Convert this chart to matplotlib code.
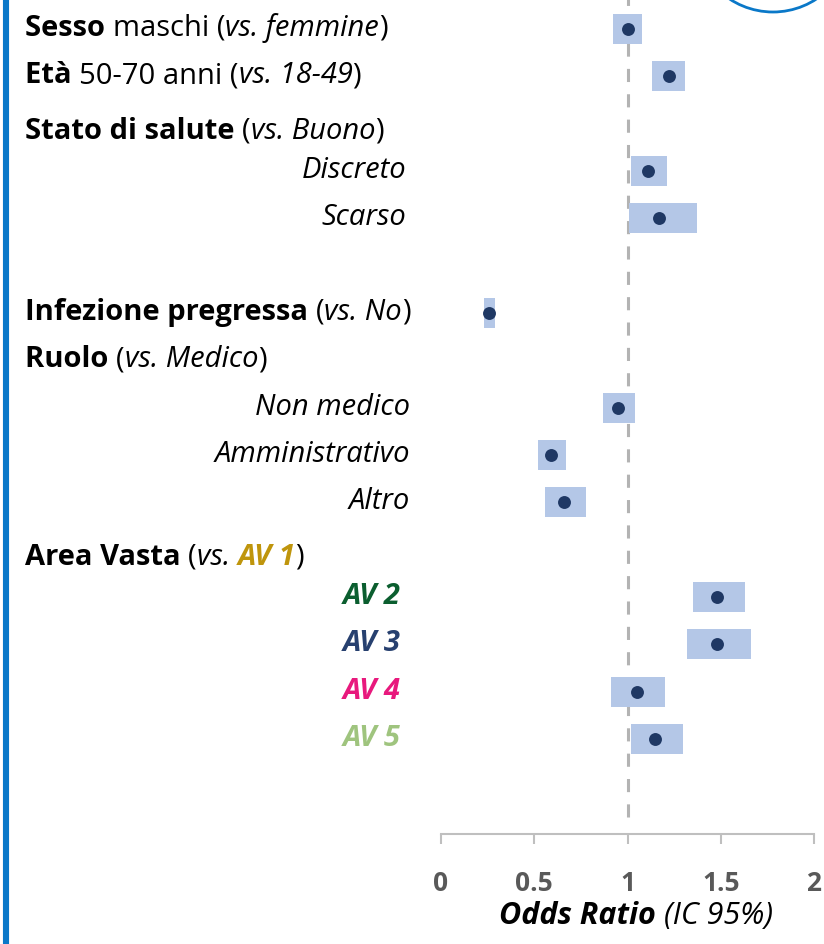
import matplotlib
matplotlib.use("Agg")
import matplotlib.pyplot as plt
import numpy as np
from matplotlib.patches import Ellipse
from matplotlib.lines import Line2D

# ---------------- data ----------------
rows      = [0, 1, 3, 4, 6, 8, 9, 10, 12, 13, 14, 15]
or_est    = [1.00, 1.22, 1.11, 1.17, 0.26, 0.95, 0.59, 0.66, 1.48, 1.48, 1.05, 1.15]
ci_low    = [0.92, 1.13, 1.02, 1.01, 0.23, 0.87, 0.52, 0.56, 1.35, 1.32, 0.91, 1.02]
ci_high   = [1.08, 1.31, 1.21, 1.37, 0.29, 1.04, 0.67, 0.78, 1.63, 1.66, 1.20, 1.30]

sub_labels = {3: "Discreto", 4: "Scarso", 8: "Non medico", 9: "Amministrativo", 10: "Altro"}
av_labels  = {12: "AV 2", 13: "AV 3", 14: "AV 4", 15: "AV 5"}
av_colors  = {12: "#0b5e2f", 13: "#27406f", 14: "#e8197d", 15: "#9fc47e"}
av1_color  = "#bf950c"

xticks      = [0, 0.5, 1, 1.5, 2]
xticklabels = ["0", "0.5", "1", "1.5", "2"]

# ---------------- figure ----------------
W, H, DPI = 824, 945, 100
FONT = "Open Sans"
plt.rcParams['font.family'] = [FONT, 'DejaVu Sans']

fig = plt.figure(figsize=(W / DPI, H / DPI), dpi=DPI)
fig.patch.set_facecolor("white")

px0, px2 = 441, 814           # x pixel of OR=0 and OR=2
axis_y = 835                  # pixel of axis line (from top)
row0_y, row_step = 30, 47.33  # first row center and spacing (px)

ax = fig.add_axes([px0 / W, 1 - axis_y / H, (px2 - px0) / W, axis_y / H])
ax.set_xlim(0, 2)
y_top = -row0_y / row_step
y_bot = (axis_y - row0_y) / row_step
ax.set_ylim(y_bot, y_top)

# reference line
ax.axvline(1, ymin=(axis_y - 818) / axis_y, ymax=1, color="#b3b3b3", lw=2.2,
           dashes=(4.3, 4.0), zorder=1)

# CI boxes
box_h = 30 / row_step
ax.barh(rows, np.array(ci_high) - np.array(ci_low), left=ci_low, height=box_h,
        color="#b4c7e7", zorder=2)
# estimates
ax.plot(or_est, rows, 'o', ms=9.3, color="#1f3864", mec="none", zorder=3)

for s in ["top", "right", "left"]:
    ax.spines[s].set_visible(False)
ax.spines["bottom"].set_color("#bfbfbf")
ax.spines["bottom"].set_linewidth(1.5)
ax.set_yticks([])
ax.set_xticks(xticks)
ax.set_xticklabels(xticklabels, fontsize=19, fontweight="bold", color="#595959")
ax.tick_params(axis="x", direction="out", length=7.2, width=1.5, color="#bfbfbf", pad=18)
ax.set_facecolor("none")

# ---------------- text helpers ----------------
fig.canvas.draw()
renderer = fig.canvas.get_renderer()

def px_to_fig(x, y):
    return x / W, 1 - y / H

def segments(x, y, segs, size, ha="left"):
    """segs: list of (text, weight, style, color). y is baseline pixel."""
    texts = []
    total = 0
    for t, wgt, sty, col in segs:
        tt = fig.text(0, 0, t, fontsize=size, fontweight=wgt, fontstyle=sty,
                      color=col, va="baseline", ha="left")
        bb = tt.get_window_extent(renderer)
        texts.append((tt, bb.width))
        total += bb.width
    if ha == "center":
        x = x - total / 2
    elif ha == "right":
        x = x - total
    cur = x
    for tt, w in texts:
        tt.set_position(px_to_fig(cur, y))
        cur += w

def row_px(r):
    return row0_y + r * row_step

FS = 21
K = "black"
base = 6  # baseline offset below row center

segments(25, row_px(0) + base, [("Sesso ", "bold", "normal", K), ("maschi (", "normal", "normal", K),
                                ("vs. femmine", "normal", "italic", K), (")", "normal", "normal", K)], FS)
segments(25, row_px(1) + base, [("Età ", "bold", "normal", K), ("50-70 anni (", "normal", "normal", K),
                                ("vs. 18-49", "normal", "italic", K), (")", "normal", "normal", K)], FS)
segments(25, row_px(2) + base + 8, [("Stato di salute ", "bold", "normal", K), ("(", "normal", "normal", K),
                                    ("vs. Buono", "normal", "italic", K), (")", "normal", "normal", K)], FS)
segments(25, row_px(6) + base, [("Infezione pregressa ", "bold", "normal", K), ("(", "normal", "normal", K),
                                ("vs. No", "normal", "italic", K), (")", "normal", "normal", K)], FS)
segments(25, row_px(7) + base, [("Ruolo ", "bold", "normal", K), ("(", "normal", "normal", K),
                                ("vs. Medico", "normal", "italic", K), (")", "normal", "normal", K)], FS)
segments(25, row_px(11) + base + 8, [("Area Vasta ", "bold", "normal", K), ("(", "normal", "normal", K),
                                     ("vs. ", "normal", "italic", K), ("AV 1", "bold", "italic", av1_color),
                                     (")", "normal", "normal", K)], FS)

for r, lab in sub_labels.items():
    xr = 406 if r in (3, 4) else 410
    segments(xr, row_px(r) + base, [(lab, "normal", "italic", K)], FS, ha="right")
for r, lab in av_labels.items():
    segments(401, row_px(r) + base, [(lab, "bold", "italic", av_colors[r])], FS, ha="right")

# x label
segments(636, 924, [("Odds Ratio ", "bold", "italic", K), ("(IC 95%)", "normal", "italic", K)], 22, ha="center")

# ---------------- decorations ----------------
fig.add_artist(Line2D([6.3 / W, 6.3 / W], [0, 1], lw=4.4, color="#0a78c8", transform=fig.transFigure))
r = 79
fig.add_artist(Ellipse((773 / W, 1 + 66 / H), 2 * r / W, 2 * r / H, fill=False,
                       ec="#0a78c8", lw=2.0, transform=fig.transFigure, clip_on=False))

fig.savefig("out.png", dpi=DPI, facecolor="white")
